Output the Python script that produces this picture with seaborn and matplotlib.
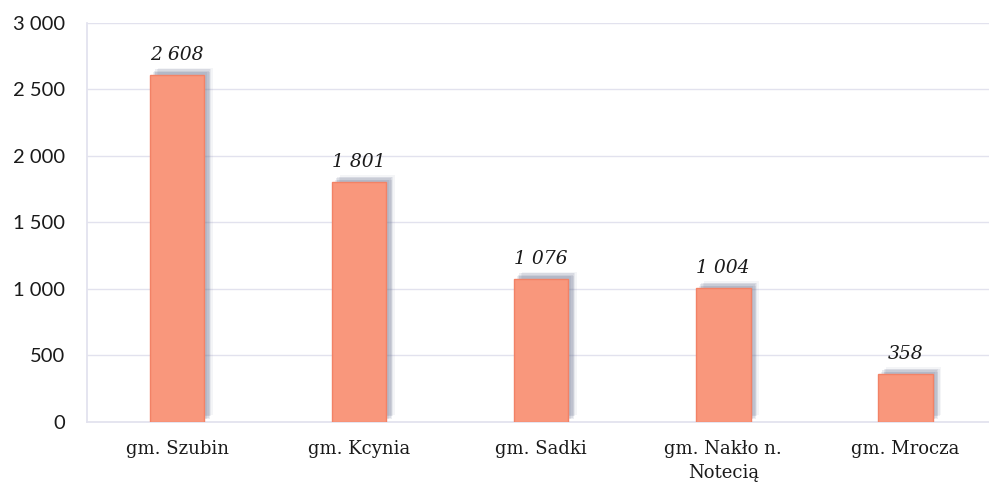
import matplotlib
matplotlib.use("Agg")
import matplotlib.pyplot as plt
import matplotlib.patheffects as pe
import seaborn as sns
import pandas as pd

# Gminy and their values
gminy = ["gm. Szubin", "gm. Kcynia", "gm. Sadki", "gm. Nakło n.\nNotecią", "gm. Mrocza"]
wartosci = [2608, 1801, 1076, 1004, 358]
y_ticks = [0, 500, 1000, 1500, 2000, 2500, 3000]

def fmt_pl(v):
    return f"{v:,}".replace(",", " ")

df = pd.DataFrame({"gmina": gminy, "wartosc": wartosci})

sns.set_theme(style="white")
serif = ["DejaVu Serif", "Liberation Serif"]
plt.rcParams["font.family"] = serif

W, H = 989, 488
fig = plt.figure(figsize=(W / 100, H / 100), dpi=100)
ax = fig.add_axes([87 / W, 66 / H, (W - 87) / W, (465.3 - 66) / H])

sns.barplot(data=df, x="gmina", y="wartosc", color="#f9977c", width=0.30,
            saturation=1, ax=ax, zorder=3)

# soft drop shadow up and to the right, built from several faint layers
shadow = []
for dx, dy, a in [(5, 4, 0.10), (4, 4, 0.12), (3, 3, 0.14), (4, 2, 0.12),
                  (2, 2, 0.12), (6, 5, 0.07)]:
    shadow.append(pe.SimplePatchShadow(offset=(dx, dy), shadow_rgbFace="#6f7895",
                                       alpha=a))
shadow.append(pe.Normal())
for p in ax.patches:
    p.set_edgecolor("#f28266")
    p.set_linewidth(1.0)
    p.set_path_effects(shadow)

for i, v in enumerate(wartosci):
    ax.annotate(fmt_pl(v), xy=(i, v), xytext=(0, 8), textcoords="offset points",
                ha="center", va="bottom", fontsize=13.5, style="italic",
                color="#1a1a1a", family=serif)

ax.set_xlim(-0.495, 4.46)
ax.set_ylim(0, 3000)
ax.set_yticks(y_ticks)
ax.set_yticklabels([fmt_pl(t) for t in y_ticks], family=["Lato", "DejaVu Sans"],
                   fontsize=14.5, color="#1a1a1a")
ax.tick_params(axis="y", length=0, pad=16)
ax.tick_params(axis="x", length=0, pad=13, labelsize=13, labelcolor="#1a1a1a")
for t in ax.get_xticklabels():
    t.set_linespacing(1.45)
ax.set_xlabel("")
ax.set_ylabel("")

ax.grid(axis="y", color="#e2e2ee", linewidth=1.0, zorder=0)
ax.set_axisbelow(True)
for s in ["top", "right"]:
    ax.spines[s].set_visible(False)
ax.spines["left"].set_color("#e2e2ee")
ax.spines["bottom"].set_color("#e2e2ee")

fig.savefig("out.png", dpi=100, facecolor="white")
